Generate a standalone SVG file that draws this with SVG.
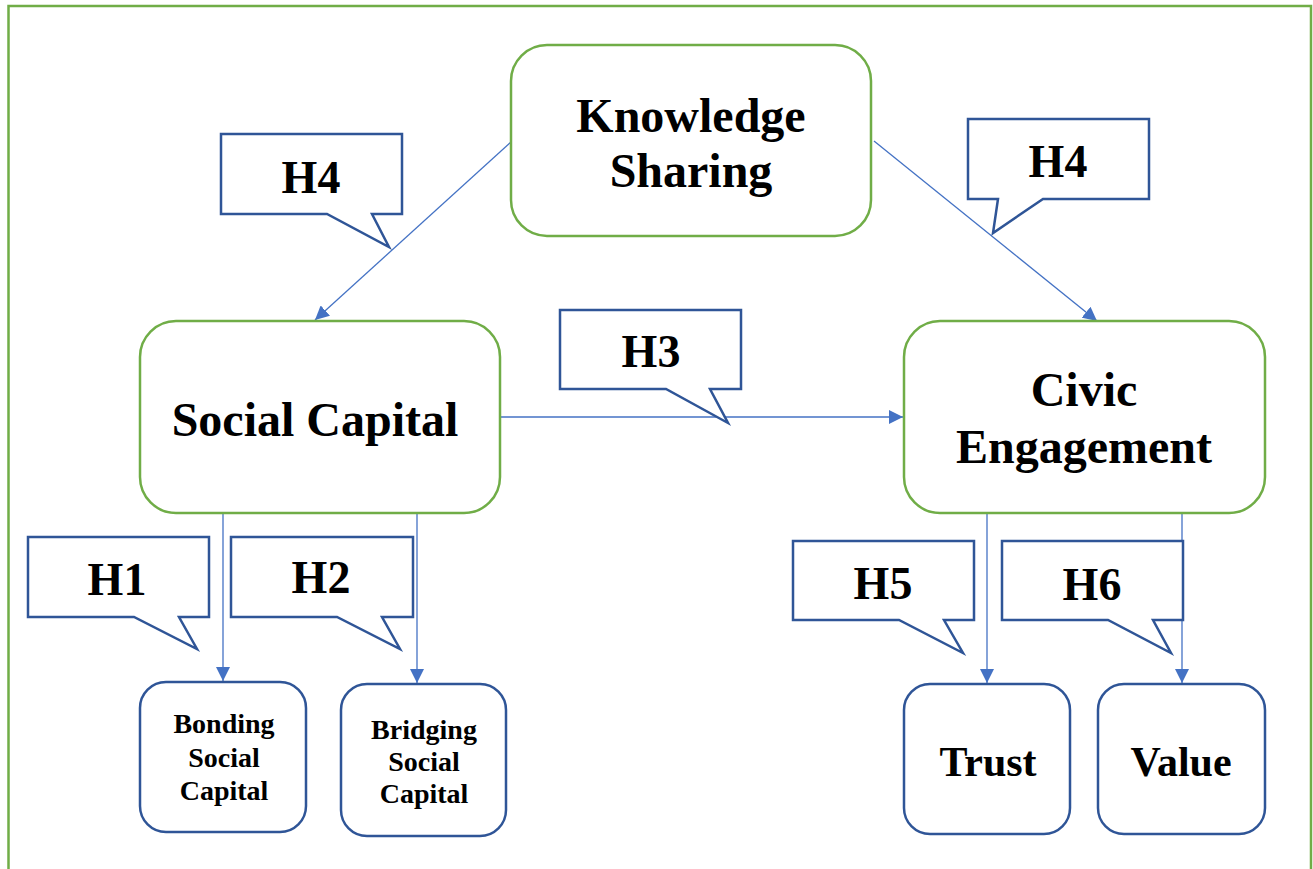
<svg xmlns="http://www.w3.org/2000/svg" width="1313" height="869" viewBox="0 0 1313 869">
<style>
.frame{fill:none;stroke:#70AD47;stroke-width:2.5}
.gbox{fill:#fff;stroke:#70AD47;stroke-width:2.5}
.bbox{fill:#fff;stroke:#2F5597;stroke-width:2.5}
.call{fill:#fff;stroke:#2F5597;stroke-width:2.5;stroke-linejoin:miter}
.con{fill:none;stroke:#4472C4;stroke-width:1.3}
text{font-family:"Liberation Serif","Times New Roman",serif;font-weight:bold;fill:#000;text-anchor:middle}
.big{font-size:48px}
.h{font-size:46px}
.sm{font-size:28px}
.md{font-size:42px}
</style>
<defs>
<marker id="arr" viewBox="0 0 10 10" refX="10" refY="5" markerWidth="14" markerHeight="14" markerUnits="userSpaceOnUse" orient="auto">
<path d="M0,0 L10,5 L0,10 Z" fill="#4472C4"/>
</marker>
</defs>
<rect class="frame" x="8.5" y="6" width="1302.5" height="900"/>
<g id="connectors">
<line class="con" x1="511" y1="142" x2="315" y2="320" marker-end="url(#arr)"/>
<line class="con" x1="874" y1="141" x2="1097" y2="321" marker-end="url(#arr)"/>
<line class="con" x1="500" y1="417" x2="903" y2="417" marker-end="url(#arr)"/>
<line class="con" x1="223" y1="513" x2="223" y2="681" marker-end="url(#arr)"/>
<line class="con" x1="417" y1="513" x2="417" y2="683" marker-end="url(#arr)"/>
<line class="con" x1="987" y1="513" x2="987" y2="683" marker-end="url(#arr)"/>
<line class="con" x1="1182" y1="513" x2="1182" y2="683" marker-end="url(#arr)"/>
</g>
<g id="knowledge-sharing">
<rect class="gbox" x="511" y="45" width="360" height="191" rx="36"/>
<text class="big" x="691" y="132">Knowledge</text>
<text class="big" x="691" y="187">Sharing</text>
</g>
<g id="social-capital">
<rect class="gbox" x="140" y="321" width="360" height="192" rx="36"/>
<text class="big" x="315" y="436">Social Capital</text>
</g>
<g id="civic-engagement">
<rect class="gbox" x="904" y="321" width="361" height="192" rx="36"/>
<text class="big" x="1084" y="406">Civic</text>
<text class="big" x="1084" y="463">Engagement</text>
</g>
<g id="bonding">
<rect class="bbox" x="140" y="682" width="166" height="150" rx="26"/>
<text class="sm" x="224" y="733">Bonding</text>
<text class="sm" x="224" y="767">Social</text>
<text class="sm" x="224" y="800">Capital</text>
</g>
<g id="bridging">
<rect class="bbox" x="341" y="684" width="165" height="152" rx="26"/>
<text class="sm" x="424" y="739">Bridging</text>
<text class="sm" x="424" y="771">Social</text>
<text class="sm" x="424" y="803">Capital</text>
</g>
<g id="trust">
<rect class="bbox" x="904" y="684" width="166" height="150" rx="26"/>
<text class="md" x="988" y="776">Trust</text>
</g>
<g id="value">
<rect class="bbox" x="1098" y="684" width="167" height="150" rx="26"/>
<text class="md" x="1181" y="776">Value</text>
</g>
<g id="callout-h4-left">
<path class="call" d="M221,134 H402 V214 H372 L389,247 L327,214 H221 Z"/>
<text class="h" x="311" y="193">H4</text>
</g>
<g id="callout-h4-right">
<path class="call" d="M968,119 H1149 V199 H1043 L993,233 L998,199 H968 Z"/>
<text class="h" x="1058" y="177">H4</text>
</g>
<g id="callout-h3">
<path class="call" d="M560,310 H741 V389 H710 L728,423 L666,389 H560 Z"/>
<text class="h" x="651" y="367">H3</text>
</g>
<g id="callout-h1">
<path class="call" d="M28,537 H209 V617 H179 L197,649 L134,617 H28 Z"/>
<text class="h" x="117" y="595">H1</text>
</g>
<g id="callout-h2">
<path class="call" d="M231,537 H413 V617 H382 L400,649 L337,617 H231 Z"/>
<text class="h" x="321" y="593">H2</text>
</g>
<g id="callout-h5">
<path class="call" d="M793,541 H974 V620 H944 L963,653 L899,620 H793 Z"/>
<text class="h" x="883" y="599">H5</text>
</g>
<g id="callout-h6">
<path class="call" d="M1002,541 H1183 V620 H1153 L1171,653 L1108,620 H1002 Z"/>
<text class="h" x="1092" y="600">H6</text>
</g>
</svg>
